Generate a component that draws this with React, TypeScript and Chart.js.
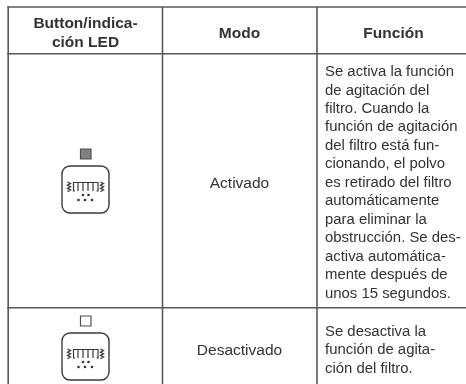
import React, { useEffect, useRef } from "react";
import { Chart, registerables } from "chart.js";

Chart.register(...registerables);

const WIDTH = 466;
const HEIGHT = 384;
const FONT = '"Liberation Sans", Arial, sans-serif';

const columnEdges = [8.2, 162.5, 317];
const rowEdges = [7, 53.8, 307.8];

const headers = [
  { lines: ["Button/indica-", "ción LED"], x: 85.5, ys: [28, 47] },
  { lines: ["Modo"], x: 239.5, ys: [37.5] },
  { lines: ["Función"], x: 393.5, ys: [37.5] },
];
const modes = [
  { text: "Activado", x: 239.5, y: 188 },
  { text: "Desactivado", x: 239.5, y: 355 },
];
const functionLines = [
  "Se activa la función", "de agitación del", "filtro. Cuando la", "función de agitación",
  "del filtro está fun-", "cionando, el polvo", "es retirado del filtro", "automáticamente",
  "para eliminar la", "obstrucción. Se des-", "activa automática-", "mente después de",
  "unos 15 segundos.",
];
const functionYs = [76, 94.5, 112.9, 131.4, 149.8, 168.3, 186.8, 205.2, 223.6, 242.1, 260.5, 279, 297.6];
const offLines = ["Se desactiva la", "función de agita-", "ción del filtro."];
const offYs = [335.5, 354, 372.6];

const iconTops = [166, 333];
const ledTops = [149, 316];
const ledFills = ["#808082", "#ffffff"];

const topDots = [[83, 29], [88.5, 29]];
const bottomDots = [[78.5, 34], [85, 34], [92, 34]];
const combTeethX = [78, 83, 88, 93];
const squiggleX = [69, 102];

const tablePlugin = {
  id: "tablePlugin",
  afterDatasetsDraw(chart: any) {
    const { ctx, scales } = chart;
    const X = (v: number) => scales.x.getPixelForValue(v);
    const Y = (v: number) => scales.y.getPixelForValue(v);
    ctx.save();
    ctx.textBaseline = "alphabetic";
    ctx.fillStyle = "#333335";
    ctx.textAlign = "center";
    ctx.font = `bold 15.5px ${FONT}`;
    headers.forEach((h) => h.lines.forEach((l, i) => ctx.fillText(l, X(h.x), Y(h.ys[i]))));
    ctx.font = `15.5px ${FONT}`;
    modes.forEach((m) => ctx.fillText(m.text, X(m.x), Y(m.y)));
    ctx.font = `14.9px ${FONT}`;
    ctx.textAlign = "left";
    functionLines.forEach((l, i) => ctx.fillText(l, X(325), Y(functionYs[i])));
    offLines.forEach((l, i) => ctx.fillText(l, X(325), Y(offYs[i])));

    iconTops.forEach((top, k) => {
      ctx.strokeStyle = "#3a3a3c";
      ctx.lineWidth = 1.4;
      ctx.beginPath();
      ctx.roundRect(X(62), Y(top), 47, 47, 8);
      ctx.stroke();
      ctx.beginPath();
      ctx.rect(X(80.5), Y(ledTops[k]), 10.5, 10);
      ctx.fillStyle = ledFills[k];
      ctx.fill();
      ctx.strokeStyle = "#505052";
      ctx.lineWidth = 1.2;
      ctx.stroke();
      ctx.strokeStyle = "#3a3a3c";
      ctx.lineWidth = 1.2;
      ctx.beginPath();
      ctx.moveTo(X(75), Y(top + 25));
      ctx.lineTo(X(73.5), Y(top + 25));
      ctx.lineTo(X(73.5), Y(top + 16.5));
      ctx.lineTo(X(98), Y(top + 16.5));
      ctx.lineTo(X(98), Y(top + 25));
      ctx.lineTo(X(96.5), Y(top + 25));
      combTeethX.forEach((x) => {
        ctx.moveTo(X(x), Y(top + 16.5));
        ctx.lineTo(X(x), Y(top + 25));
      });
      ctx.stroke();
      ctx.lineWidth = 1.3;
      squiggleX.forEach((x) => {
        ctx.beginPath();
        for (let i = 0; i <= 6; i++) {
          const px = x + (i % 2 === 0 ? -1.5 : 1.5);
          const py = top + 16 + i * 1.6;
          if (i === 0) ctx.moveTo(X(px), Y(py));
          else ctx.lineTo(X(px), Y(py));
        }
        ctx.stroke();
      });
      ctx.fillStyle = "#333335";
      [...topDots, ...bottomDots].forEach(([x, y]) => {
        ctx.beginPath();
        ctx.arc(X(x), Y(top + y), 1.3, 0, Math.PI * 2);
        ctx.fill();
      });
    });
    ctx.restore();
  },
};

export default function App() {
  const ref = useRef<HTMLCanvasElement>(null);
  useEffect(() => {
    const lineStyle = { borderColor: "#59595b", borderWidth: 1.6, pointRadius: 0, showLine: true, fill: false };
    const datasets = [
      ...rowEdges.map((y) => ({ ...lineStyle, data: [{ x: columnEdges[0] - 1, y }, { x: WIDTH, y }] })),
      ...columnEdges.map((x) => ({ ...lineStyle, data: [{ x, y: rowEdges[0] }, { x, y: HEIGHT }] })),
    ];
    const chart = new Chart(ref.current!, {
      type: "scatter",
      data: { datasets },
      options: {
        animation: false,
        responsive: false,
        layout: { padding: 0 },
        plugins: { legend: { display: false }, tooltip: { enabled: false }, title: { display: false } },
        scales: {
          x: { type: "linear", min: 0, max: WIDTH, display: false },
          y: { type: "linear", min: 0, max: HEIGHT, reverse: true, display: false },
        },
      },
      plugins: [tablePlugin],
    } as any);
    return () => chart.destroy();
  }, []);
  return (
    <div style={{ position: "absolute", left: 0, top: 0, width: WIDTH, height: HEIGHT, background: "#fff" }}>
      <canvas ref={ref} width={WIDTH} height={HEIGHT} style={{ display: "block" }} />
    </div>
  );
}
